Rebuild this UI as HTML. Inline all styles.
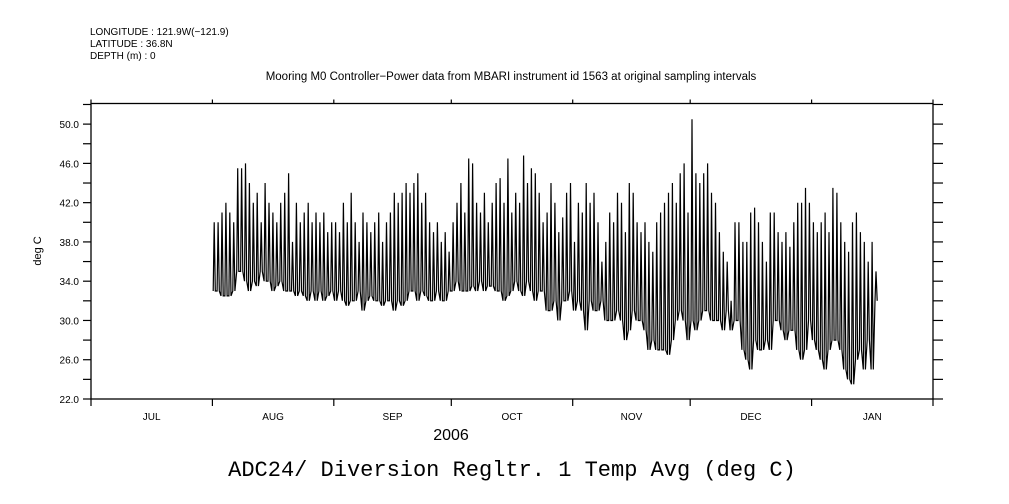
<!DOCTYPE html>
<html><head><meta charset="utf-8"><style>
body{margin:0;background:#fff;}
svg{display:block;font-family:"Liberation Sans",sans-serif;}
</style></head><body>
<svg id="chart" width="1009" height="504" viewBox="0 0 1009 504">
<rect width="1009" height="504" fill="#fff"/>
<text x="90" y="35" font-size="10">LONGITUDE : 121.9W(−121.9)</text>
<text x="90" y="47" font-size="10">LATITUDE : 36.8N</text>
<text x="90" y="59" font-size="10">DEPTH (m) : 0</text>
<text x="511" y="80" font-size="11.5" text-anchor="middle">Mooring M0 Controller−Power data from MBARI instrument id 1563 at original sampling intervals</text>
<text x="0" y="0" font-size="11" text-anchor="middle" transform="translate(41,251) rotate(-90)">deg C</text>
<text x="451" y="440" font-size="16" text-anchor="middle">2006</text>
<text x="512" y="476" font-size="22" text-anchor="middle" font-family="Liberation Mono, monospace">ADC24/ Diversion Regltr. 1 Temp Avg (deg C)</text>
<rect x="91" y="103.5" width="842" height="295.5" fill="none" stroke="#000" stroke-width="1.3"/>
<g id="axes"></g>
<path id="series" fill="none" stroke="#000" stroke-width="1.2"/>
</svg>
<script>
const monthLabels=["JUL","AUG","SEP","OCT","NOV","DEC","JAN"];
const monthDays=[31,31,30,31,30,31,31];
const yTicks=[22,26,30,34,38,42,46,50];
const dailyMax=[40,40,41,42,41,40,45.5,45.5,46,44, 42,43,40,44,42,41,40,42,43,45, 38,42,40,41,42,40,41,40,41,39,40,
40,39,42,40,43,40,38,41,40,39, 40,41,38,40,41,43,42,43,44,43, 44,45,42,43,40,39,40,38,39,37,
40,42,44,41,46.5,46,42,41,43,40, 42,44,44.5,42,46.5,41,43,42,46.8,44, 45.5,45,43,40,41,44,42,39,40.5,43,44,
38,42,41,44,42,43,40,36,38,41, 40,43,42,39,44,43,40,39,40,38, 37,40,41,42,43,44,42,45,46,41,
50.5,45,44,45,46,43,42,39,37,36, 32,40,40,38,38,41,41.5,40,38,36, 41,41,39,38,39,37.5,40,42,42,43.5,42,
40,39,40,41,39,43.5,43,40,38,37,40,41,39,38,36,38,35];
const dailyMin=[33,33,32.5,32.5,32.5,33,35,35,34,33, 34,33.5,35,34,34,33,33.5,34,33,33, 33,32.5,33,32.5,32,33,32,33,32,32.5,33,
32,33,32,31.5,32,32,33,31,32,32.5, 32,32,31.5,32,32,31,32,31.5,32,33, 33,32,33,32.5,32,32,33,32,32,33,
33,34,33,33,33,33.5,33,34,33,33.5, 33.5,33,33,32,32.5,33,34,33,32.5,34, 33,32,33,33,31,31,32,30,32,32,33,
31,32,31,29,32,31,31,32,30,30, 30,31,30,28,29,31,30,30,29,27, 28,27,27,27,26.5,28,30,31,30,28,
30,29,30,31,31,30,30,30,29,31, 29,30,30,27,26,25,28,27,27,28, 27,30,30,29,28,29,29,27,26,27,30,
28,27,26,25,27,28,28,27,25,24,23.5,26,27,25,28,25,32];
const startDay=31;
const X0=91,X1=933,Y0=399,Y1=103.5,totalDays=monthDays.reduce((a,b)=>a+b,0);
const yMin=22,yMax=52.1;
function xs(d){return X0+(X1-X0)*d/totalDays;}
function ys(v){return Y0-(Y0-Y1)*(v-yMin)/(yMax-yMin);}
const ns="http://www.w3.org/2000/svg",ax=document.getElementById('axes');
function line(x1,y1,x2,y2,name){const l=document.createElementNS(ns,'line');l.setAttribute('x1',x1);l.setAttribute('y1',y1);l.setAttribute('x2',x2);l.setAttribute('y2',y2);l.setAttribute('stroke','#000');l.setAttribute('stroke-width','1.2');


ax.appendChild(l);}
function txt(x,y,s,anchor,name){const t=document.createElementNS(ns,'text');t.setAttribute('x',x);t.setAttribute('y',y);t.setAttribute('font-size','10');t.setAttribute('text-anchor',anchor);t.textContent=s;


ax.appendChild(t);}
for(let v=yMin;v<=52;v+=2){const y=ys(v);
line(X0-8,y,X0,y,'y-tick-left');
line(X1,y,X1+10,y,'y-tick-right');}
yTicks.forEach(v=>txt(X0-12,ys(v)+4,v.toFixed(1),'end','y-tick-label'));
let cum=0;
monthDays.forEach((d,i)=>{const xa=xs(cum);line(xa,Y0,xa,Y0+7,'x-tick');line(xa,Y1,xa,Y1-4,'x-tick-top');
txt(xs(cum+d/2),Y0+21,monthLabels[i],'middle','x-month-label');cum+=d;});
line(X1,Y0,X1,Y0+7,'x-tick');line(X1,Y1,X1,Y1-4,'x-tick-top');
let p='';
dailyMax.forEach((mx,i)=>{const d=startDay+i;const mn=dailyMin[i];
p+=(i?'L':'M')+xs(d+0.2).toFixed(1)+' '+ys(mn).toFixed(1)+'L'+xs(d+0.45).toFixed(1)+' '+ys(mx).toFixed(1)+'L'+xs(d+0.75).toFixed(1)+' '+ys(mn).toFixed(1);});
document.getElementById('series').setAttribute('d',p);
</script>
</body></html>
